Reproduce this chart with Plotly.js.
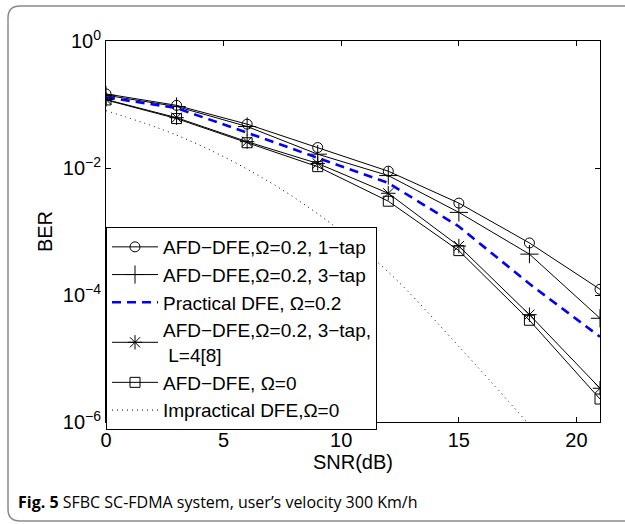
<!DOCTYPE html>
<html>
<head>
<meta charset="utf-8">
<script src="https://cdn.plot.ly/plotly-3.0.1.min.js"></script>
<style>
html,body{margin:0;padding:0;background:#fff;}
#chart{width:625px;height:524px;}
</style>
</head>
<body>
<div id="chart"></div>
<script>
// SNR points (dB)
const snr = [0, 3, 6, 9, 12, 15, 18, 21];
// BER series
const berAfd1tap   = [0.147, 0.097, 0.049, 0.021, 0.0089, 0.0028, 6.6e-4, 1.23e-4];
const berAfd3tap   = [0.140, 0.093, 0.045, 0.0165, 0.0076, 0.0020, 4.4e-4, 4.3e-5];
const berPractical = [0.130, 0.088, 0.036, 0.0144, 0.0058, 0.0012, 1.5e-4, 2.2e-5];
const berAfd3tapL4 = [0.120, 0.062, 0.026, 0.0118, 0.0040, 5.9e-4, 4.9e-5, 3.4e-6];
const berAfdOmega0 = [0.118, 0.060, 0.025, 0.0105, 0.0030, 5.0e-4, 4.0e-5, 2.3e-6];
const snrImpractical = [0, 3, 6, 9, 12, 15, 18];
const berImpractical = [0.080, 0.033, 0.0096, 0.0019, 2.3e-4, 1.55e-5, 9.0e-7];

const seriesNames = [
  "AFD\u2212DFE,\u03A9=0.2, 1\u2212tap",
  "AFD\u2212DFE,\u03A9=0.2, 3\u2212tap",
  "Practical DFE, \u03A9=0.2",
  "AFD\u2212DFE,\u03A9=0.2, 3\u2212tap,<br> L=4[8]",
  "AFD\u2212DFE, \u03A9=0",
  "Impractical DFE,\u03A9=0"
];
const yTickVals = [1e-6, 1e-4, 1e-2, 1];
const yTickText = ["10<sup>\u22126</sup>", "10<sup>\u22124</sup>", "10<sup>\u22122</sup>", "10<sup>0</sup>"];
const xTickVals = [0, 5, 10, 15, 20];
const caption = "<b>Fig. 5</b> SFBC SC-FDMA system, user\u2019s velocity 300 Km/h";

const blackLine = {color: "#000", width: 1};
const traces = [
  {x: snr, y: berAfd1tap, name: seriesNames[0], mode: "lines+markers", line: blackLine,
   marker: {symbol: "circle-open", size: 10, color: "#000", line: {width: 1, color: "#000"}}},
  {x: snr, y: berAfd3tap, name: seriesNames[1], mode: "lines+markers", line: blackLine,
   marker: {symbol: "cross-thin-open", size: 13, color: "#000", line: {width: 1, color: "#000"}}},
  {x: snr, y: berPractical, name: seriesNames[2], mode: "lines",
   line: {color: "#0000ff", width: 2.6, dash: "9px,6px"}},
  {x: snr, y: berAfd3tapL4, name: seriesNames[3], mode: "lines+markers", line: blackLine,
   marker: {symbol: "asterisk-open", size: 12, color: "#000", line: {width: 1, color: "#000"}}},
  {x: snr, y: berAfdOmega0, name: seriesNames[4], mode: "lines+markers", line: blackLine,
   marker: {symbol: "square-open", size: 10, color: "#000", line: {width: 1, color: "#000"}}},
  {x: snrImpractical, y: berImpractical, name: seriesNames[5], mode: "lines",
   line: {color: "#000", width: 1, dash: "1px,4px", shape: "spline"}}
];

const W = 625, H = 524;
const L = 106, R = 25, T = 41, B = 102;
const pw = W - L - R, ph = H - T - B;
const px = v => (v - L) / pw;
const py = v => (H - B - v) / ph;
// rounded frame around the figure
const fx0 = 8, fy0 = 6, fx1 = 650, fy1 = 521, rr = 12;
const framePath =
  `M ${px(fx0)} ${py(fy0 + rr)} Q ${px(fx0)} ${py(fy0)} ${px(fx0 + rr)} ${py(fy0)} ` +
  `L ${px(fx1)} ${py(fy0)} L ${px(fx1)} ${py(fy1)} L ${px(fx0 + rr)} ${py(fy1)} ` +
  `Q ${px(fx0)} ${py(fy1)} ${px(fx0)} ${py(fy1 - rr)} Z`;

const font = "Liberation Sans, Arial, sans-serif";
const layout = {
  width: W, height: H,
  margin: {l: L, r: R, t: T, b: B, pad: 0},
  paper_bgcolor: "#fff", plot_bgcolor: "#fff",
  font: {family: font, size: 20, color: "#000"},
  showlegend: true,
  legend: {
    x: px(106), y: py(227), xanchor: "left", yanchor: "top",
    bgcolor: "#fff", bordercolor: "#000", borderwidth: 1,
    font: {family: font, size: 19, color: "#000"},
    traceorder: "normal", itemwidth: 46
  },
  xaxis: {
    range: [0, 21], tickvals: xTickVals, ticks: "inside", ticklen: 5, tickcolor: "#000",
    showline: true, linecolor: "#000", linewidth: 1, mirror: "ticks", showgrid: false, zeroline: false,
    tickfont: {family: font, size: 20},
    title: {text: "SNR(dB)", font: {family: font, size: 20}, standoff: 0}
  },
  yaxis: {
    type: "log", range: [-6, 0], tickvals: yTickVals, ticktext: yTickText,
    ticks: "inside", ticklen: 5, tickcolor: "#000",
    showline: true, linecolor: "#000", linewidth: 1, mirror: "ticks", showgrid: false, zeroline: false,
    tickfont: {family: font, size: 20},
    title: {text: "BER", font: {family: font, size: 20}, standoff: 4}
  },
  shapes: [{type: "path", xref: "paper", yref: "paper", path: framePath,
            line: {color: "#8a8a8a", width: 1.5}, fillcolor: "rgba(0,0,0,0)", layer: "below"}],
  annotations: [{text: caption, xref: "paper", yref: "paper", x: px(16), y: py(502),
                 xanchor: "left", yanchor: "middle", showarrow: false,
                 font: {family: "Open Sans, sans-serif", size: 16, color: "#000"}}]
};

Plotly.newPlot("chart", traces, layout, {displayModeBar: false, staticPlot: true});
</script>
</body>
</html>
